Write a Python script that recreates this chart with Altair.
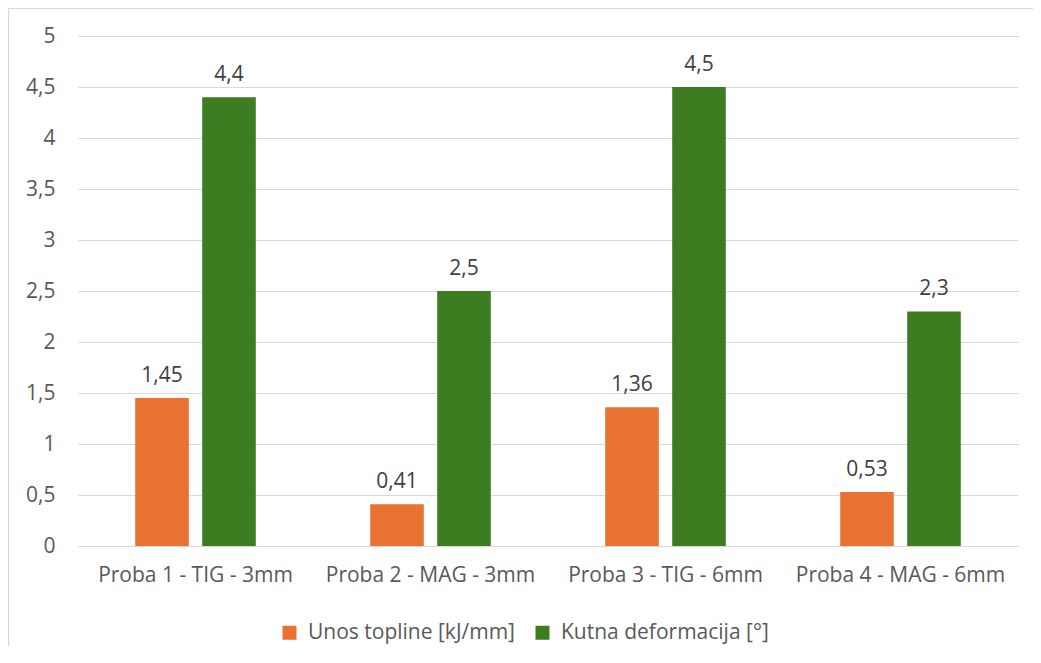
import altair as alt
import pandas as pd

categories = ["Proba 1 - TIG - 3mm", "Proba 2 - MAG - 3mm", "Proba 3 - TIG - 6mm", "Proba 4 - MAG - 6mm"]
series = ["Unos topline [kJ/mm]", "Kutna deformacija [°]"]
unos = [1.45, 0.41, 1.36, 0.53]
kutna = [4.4, 2.5, 4.5, 2.3]
colors = ["#E97132", "#3C7D22"]
y_ticks = [0, 0.5, 1, 1.5, 2, 2.5, 3, 3.5, 4, 4.5, 5]

rows = []
for c, u, k in zip(categories, unos, kutna):
    rows.append({"cat": c, "series": series[0], "value": u})
    rows.append({"cat": c, "series": series[1], "value": k})
df = pd.DataFrame(rows)

FONT = "Open Sans"
GRID = "#d9d9d9"

base = alt.Chart(df).encode(
    x=alt.X(
        "cat:N",
        sort=categories,
        scale=alt.Scale(paddingInner=0, paddingOuter=0),
        axis=alt.Axis(
            title=None, labelAngle=0, domain=True, domainColor=GRID, ticks=False,
            labelFont=FONT, labelFontSize=21, labelColor="#595959", labelPadding=18,
            labelLimit=0,
        ),
    ),
    xOffset=alt.XOffset("series:N", sort=series,
                        scale=alt.Scale(paddingInner=0.2, paddingOuter=0.854)),
    y=alt.Y(
        "value:Q",
        scale=alt.Scale(domain=[0, 5], nice=False),
        axis=alt.Axis(
            title=None, values=y_ticks, domain=False, ticks=False,
            gridColor=GRID, gridWidth=1.2,
            labelExpr="replace(format(datum.value, '~g'), '.', ',')",
            labelFont=FONT, labelFontSize=21, labelColor="#595959", labelPadding=23,
        ),
    ),
)

bars = base.mark_bar().encode(
    color=alt.Color(
        "series:N", sort=series,
        scale=alt.Scale(domain=series, range=colors),
        legend=alt.Legend(
            title=None, orient="none", legendX=201, legendY=586, direction="horizontal",
            symbolType="square", symbolSize=196, symbolStrokeWidth=0,
            labelFont=FONT, labelFontSize=21, labelColor="#595959",
            labelOffset=8, columnPadding=17, padding=0, labelLimit=0,
        ),
    )
)

labels = base.transform_calculate(
    lbl="replace(format(datum.value, '~g'), '.', ',')"
).mark_text(
    baseline="alphabetic", dy=-16, font=FONT, fontSize=21, color="#404040"
).encode(text="lbl:N")

frame_df = pd.DataFrame({"k": [0]})
left_edge = alt.Chart(frame_df).mark_rule(color=GRID, strokeWidth=1.2).encode(
    x=alt.value(-69.5), y=alt.value(-27.5), y2=alt.value(700)
)
top_edge = alt.Chart(frame_df).mark_rule(color=GRID, strokeWidth=1.2).encode(
    x=alt.value(-69.5), x2=alt.value(1000), y=alt.value(-27.5)
)

chart = alt.layer(bars, labels, left_edge, top_edge).properties(
    width=940,
    height=510,
    autosize=alt.AutoSizeParams(type="none"),
    padding={"left": 70, "top": 28, "right": 15, "bottom": 100},
).configure_view(stroke=None)

chart.save("out.html", embed_options={"renderer": "svg", "actions": False})
